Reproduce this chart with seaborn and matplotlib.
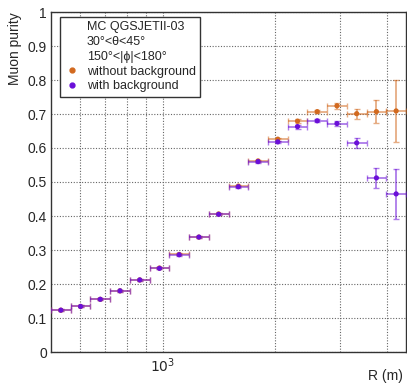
import numpy as np
import pandas as pd
import matplotlib
matplotlib.use("Agg")
import matplotlib.pyplot as plt
from matplotlib.ticker import MultipleLocator, FixedLocator, FuncFormatter, NullFormatter
from matplotlib.lines import Line2D
import seaborn as sns

# ---- data ----
bin_low = [500, 564.9, 638.2, 721.1, 814.7, 920.5, 1040, 1175, 1327.5,
           1500, 1694.7, 1914.7, 2163, 2444, 2761, 3120, 3525, 3983]
bin_high = [564.9, 638.2, 721.1, 814.7, 920.5, 1040, 1175, 1327.5, 1500,
            1694.7, 1914.7, 2163, 2444, 2761, 3120, 3525, 3983, 4500]
purity_nobg = [0.123, 0.134, 0.155, 0.180, 0.212, 0.247, 0.287, 0.338, 0.406,
               0.488, 0.562, 0.626, 0.679, 0.707, 0.724, 0.701, 0.707, 0.709]
err_nobg = [0.003, 0.003, 0.003, 0.003, 0.003, 0.003, 0.003, 0.003, 0.003,
            0.003, 0.003, 0.004, 0.005, 0.005, 0.009, 0.015, 0.034, 0.090]
purity_bg = [0.123, 0.134, 0.155, 0.180, 0.212, 0.246, 0.286, 0.338, 0.405,
             0.486, 0.560, 0.618, 0.663, 0.680, 0.672, 0.615, 0.512, 0.465]
err_bg = [0.003, 0.003, 0.003, 0.003, 0.003, 0.003, 0.003, 0.003, 0.003,
          0.003, 0.003, 0.004, 0.006, 0.005, 0.007, 0.014, 0.029, 0.074]
series_names = ["without background", "with background"]
header_lines = ["MC QGSJETII-03", "30°<θ<45°", "150°<|ϕ|<180°"]

col_nobg = "#d2691e"
col_bg = "#6a0fd8"

sns.set_theme(style="white")
plt.rcParams['font.family'] = ['Liberation Sans', 'DejaVu Sans']

fig = plt.figure(figsize=(4.07, 3.86), dpi=100)
ax = fig.add_axes([51/407, 1-352/386, 355/407, 340/386])

lo = np.array(bin_low); hi = np.array(bin_high)
xc = np.sqrt(lo * hi)
xerr = np.vstack([xc - lo, hi - xc])

rows = []
for name, vals in zip(series_names, [purity_nobg, purity_bg]):
    for x, v in zip(xc, vals):
        rows.append({"R": x, "purity": v, "series": name})
df = pd.DataFrame(rows)

for name, vals, errs, c in [(series_names[0], purity_nobg, err_nobg, col_nobg),
                            (series_names[1], purity_bg, err_bg, col_bg)]:
    ax.errorbar(xc, vals, xerr=xerr, yerr=errs, fmt='none', ecolor=c,
                elinewidth=1.3, capsize=2, capthick=1.0, alpha=0.55, zorder=3)
    sub = df[df.series == name]
    sns.scatterplot(data=sub, x="R", y="purity", color=c, s=14, marker='o',
                    edgecolor='none', ax=ax, zorder=4, legend=False)

ax.set_xscale('log')
ax.set_xlim(500, 4500)
ax.set_ylim(0, 1)

ax.xaxis.set_major_locator(FixedLocator([1000]))
ax.xaxis.set_major_formatter(FuncFormatter(lambda v, p: r'$10^{3}$'))
ax.xaxis.set_minor_locator(FixedLocator([600, 700, 800, 900, 2000, 3000, 4000]))
ax.xaxis.set_minor_formatter(NullFormatter())
ax.yaxis.set_major_locator(MultipleLocator(0.1))
ax.yaxis.set_minor_locator(MultipleLocator(0.02))
ax.yaxis.set_major_formatter(FuncFormatter(lambda v, p: '%g' % round(v, 2)))

ax.tick_params(axis='both', which='major', direction='in', length=8, width=1,
               labelsize=10, color='#333333', top=False, right=False, pad=3)
ax.tick_params(axis='both', which='minor', direction='in', length=4, width=1,
               color='#333333', top=False, right=False)

ax.grid(True, which='major', axis='both', linestyle=(0, (1, 1.5)), color='#666666', lw=0.8)
ax.grid(True, which='minor', axis='x', linestyle=(0, (1, 1.5)), color='#666666', lw=0.8)
ax.set_axisbelow(True)

for s in ax.spines.values():
    s.set_color('#333333')
    s.set_linewidth(1.0)
    s.set_visible(True)

ax.set_ylabel("Muon purity", fontsize=10, ha='right')
ax.yaxis.set_label_coords(-0.082, 1.0)
ax.set_xlabel("R (m)", fontsize=10, ha='right', va='center')
ax.xaxis.set_label_coords(0.992, -0.072)

handles = [Line2D([], [], linestyle='none') for _ in header_lines]
handles += [Line2D([], [], linestyle='none', marker='o', markersize=3.5,
                   color=col_nobg),
            Line2D([], [], linestyle='none', marker='o', markersize=3.5,
                   color=col_bg)]
labels = header_lines + series_names
leg = ax.legend(handles, labels, loc='upper left', bbox_to_anchor=(0.025, 0.985),
                fontsize=9, frameon=True, fancybox=False, framealpha=1,
                edgecolor='#333333', borderpad=0.35, labelspacing=0.22,
                handlelength=1.2, handletextpad=0.6, borderaxespad=0)
leg.get_frame().set_linewidth(1.0)

fig.savefig("out.png", dpi=100)
